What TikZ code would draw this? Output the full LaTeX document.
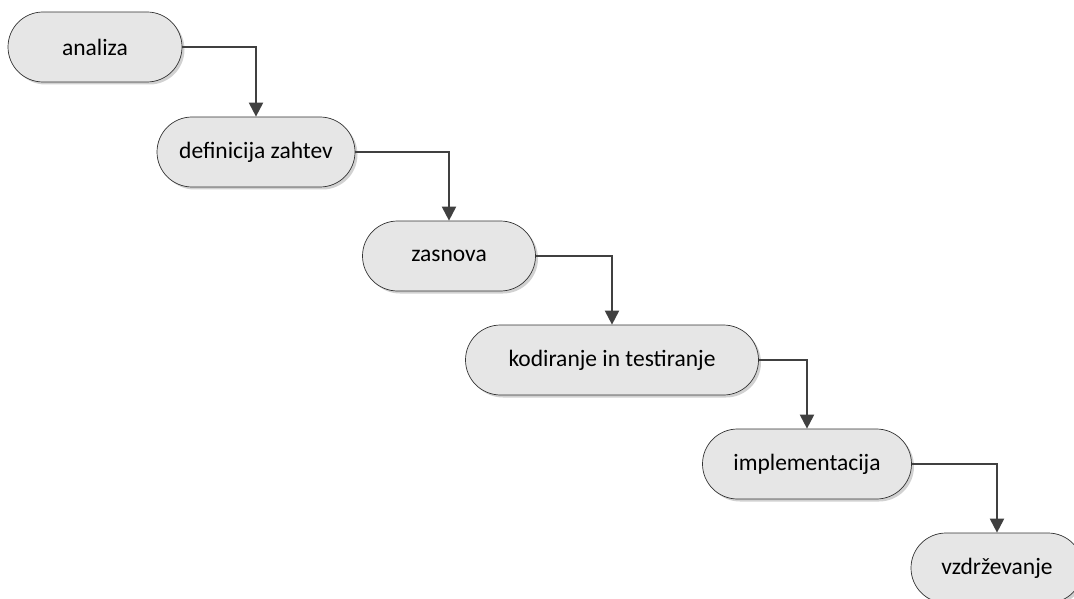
\documentclass[tikz,border=0pt]{standalone}
\usepackage{fontspec}
\setmainfont{Carlito}
\usepackage{tikz}
\usetikzlibrary{arrows.meta}
\usetikzlibrary{shadows}

\definecolor{phasefill}{HTML}{E6E6E6}
\definecolor{flowline}{HTML}{404040}

\tikzset{
  phase/.style={draw=black!80, line width=0.7pt, fill=phasefill,
    rounded corners=35pt, minimum height=70pt, inner xsep=0pt,
    font=\fontsize{23.5}{28}\selectfont, text=black,
    drop shadow={shadow xshift=2.5pt, shadow yshift=-2.5pt, fill=black!18, opacity=1}},
  flow/.style={draw=flowline, line width=2pt,
    -{Triangle[width=14pt,length=14pt]}}
}

\begin{document}
\begin{tikzpicture}[x=1pt, y=-1pt]
  \useasboundingbox (0,0) rectangle (1074,599);

  % the phases, one step down and right each
  \node[phase, minimum width=174pt] (analiza) at (95,47) {analiza};
  \node[phase, minimum width=198pt] (zahteve) at (256,152) {definicija zahtev};
  \node[phase, minimum width=173pt] (zasnova) at (449,256) {zasnova};
  \node[phase, minimum width=293pt] (kodiranje) at (612,360) {kodiranje in testiranje};
  \node[phase, minimum width=209pt] (implement) at (807,464) {implementacija};
  \node[phase, minimum width=172pt] (vzdrz) at (997,568) {vzdrževanje};

  % links between phases
  \draw[flow] (analiza.east) -| (zahteve.north);
  \draw[flow] (zahteve.east) -| (zasnova.north);
  \draw[flow] (zasnova.east) -| (kodiranje.north);
  \draw[flow] (kodiranje.east) -| (implement.north);
  \draw[flow] (implement.east) -| (vzdrz.north);
\end{tikzpicture}
\end{document}
